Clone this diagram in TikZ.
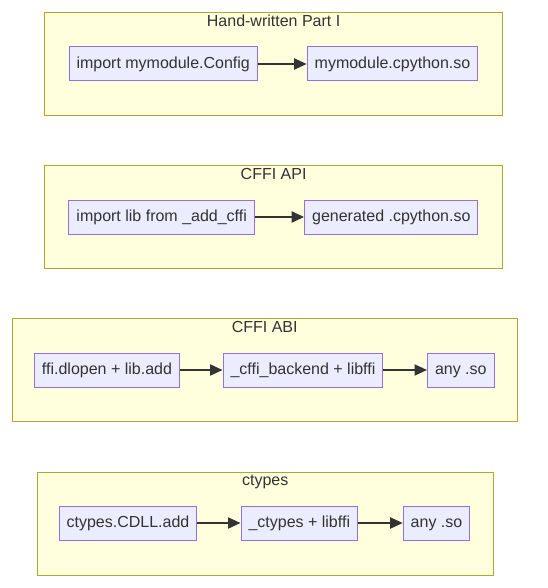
\documentclass[tikz,border=0pt]{standalone}
\usepackage{fontspec}
\setmainfont{Liberation Sans}
\usepackage{xcolor}
\usepackage{tikz}
\definecolor{clusterYellow}{HTML}{FFFFDE}
\definecolor{clusterOlive}{HTML}{AAAA33}
\definecolor{nodeLavender}{HTML}{ECECFF}
\definecolor{nodePurple}{HTML}{9370DB}
\definecolor{inkGrey}{HTML}{333333}
\usetikzlibrary{arrows.meta,positioning}
\tikzstyle{cluster} = [rectangle, draw = clusterOlive, fill = clusterYellow, line width = 1pt]
\tikzstyle{title} = [anchor = north, inner sep = 3pt, text = inkGrey, font = \fontsize{16}{19}\selectfont]
\tikzstyle{block} = [rectangle, draw = nodePurple, fill = nodeLavender, line width = 1pt, text = inkGrey, inner xsep = 7.5pt, text height = 12pt, text depth = 3.5pt, minimum height = 34pt, font = \fontsize{16}{19}\selectfont]
\tikzstyle{line} = [line width = 2pt, draw = inkGrey, -{Triangle[length = 12.5pt, width = 11pt]}]

\begin{document}
\begin{tikzpicture}[x = 1pt, y = -1pt]
        \useasboundingbox (0,0) rectangle (547,588);
        % Hand-written Part I
        \node(handBox) [cluster, minimum width = 458.7pt, minimum height = 102.7pt] at (273.6,63.7) {};
        \node(handTitle) [title] at (handBox.north) {Hand-written Part I};
        \node(importConfig) [block] at (163.2,64) {import mymodule.Config};
        \node(moduleSo) [block, right of = importConfig, node distance = 229.3pt] {mymodule.cpython.so};
        \draw[line] (importConfig) -- (moduleSo);
        % CFFI API
        \node(apiBox) [cluster, minimum width = 458.7pt, minimum height = 102.6pt] at (273.6,217) {};
        \node(apiTitle) [title] at (apiBox.north) {CFFI API};
        \node(importLib) [block] at (161.7,217) {import lib from \_add\_cffi};
        \node(generatedSo) [block, right of = importLib, node distance = 229.6pt] {generated .cpython.so};
        \draw[line] (importLib) -- (generatedSo);
        % CFFI ABI
        \node(abiBox) [cluster, minimum width = 504.7pt, minimum height = 103pt] at (264.7,370.2) {};
        \node(abiTitle) [title] at (abiBox.north) {CFFI ABI};
        \node(dlopen) [block] at (107,370) {ffi.dlopen + lib.add};
        \node(cffiBackend) [block, right of = dlopen, node distance = 196pt] {\_cffi\_backend + libffi};
        \node(abiSo) [block, right of = cffiBackend, node distance = 157.8pt] {any .so};
        \draw[line] (dlopen) -- (cffiBackend);
        \draw[line] (cffiBackend) -- (abiSo);
        % ctypes
        \node(ctypesBox) [cluster, minimum width = 455.7pt, minimum height = 102.7pt] at (265.2,523.7) {};
        \node(ctypesTitle) [title] at (ctypesBox.north) {ctypes};
        \node(cdll) [block] at (128,523) {ctypes.CDLL.add};
        \node(ctypesLib) [block, right of = cdll, node distance = 171.3pt] {\_ctypes + libffi};
        \node(ctypesSo) [block, right of = ctypesLib, node distance = 137.2pt] {any .so};
        \draw[line] (cdll) -- (ctypesLib);
        \draw[line] (ctypesLib) -- (ctypesSo);
    \end{tikzpicture}
\end{document}
